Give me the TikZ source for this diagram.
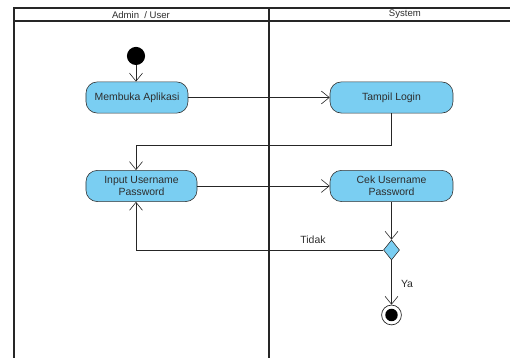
\documentclass[tikz,border=0pt]{standalone}
\usepackage{fontspec}
\setmainfont{Liberation Sans}
\usetikzlibrary{arrows.meta,shapes.geometric}
\definecolor{actfill}{RGB}{122,206,242}
\definecolor{txtgray}{RGB}{45,45,45}

\begin{document}
\begin{tikzpicture}[
  act/.style={draw=black!80, fill=actfill, rounded corners=0.4cm, minimum height=1.1cm,
    text=txtgray, font=\fontsize{10.5}{12}\selectfont, align=center, line width=0.6pt},
  flow/.style={draw=black!85, line width=0.6pt, -{Straight Barb[length=8pt,width=13pt]}},
  lane/.style={line width=1.6pt, draw=black!85},
  header/.style={text=txtgray, font=\fontsize{9.6}{11}\selectfont},
  lbl/.style={text=txtgray, font=\fontsize{10.5}{12}\selectfont}
]

\useasboundingbox (0,0) rectangle (18,12.635);
\clip (0,0) rectangle (18,12.635);

% swimlanes
\draw[lane] (0.494,-0.5) -- (0.494,12.353) -- (18.5,12.353);
\draw[lane] (0.494,11.894) -- (18.5,11.894);
\draw[lane] (9.494,-0.5) -- (9.494,12.353);
\node[header] (h1) at (4.976,12.12) {Admin \ / User};
\node[header] (h2) at (14.29,12.12) {System};

% activities
\node[circle, fill=black, minimum size=0.64cm, inner sep=0] (v1) at (4.80,10.66) {};
\node[act, minimum width=3.6cm] (v2) at (4.835,9.194) {Membuka Aplikasi};
\node[act, minimum width=4.34cm] (v3) at (13.818,9.194) {Tampil Login};
\node[act, minimum width=3.92cm] (v4) at (4.994,6.071) {Input Username\\Password};
\node[act, minimum width=4.34cm] (v5) at (13.818,6.071) {Cek Username\\Password};
\node[diamond, draw=black!80, fill=actfill, line width=0.6pt, minimum width=0.565cm,
  minimum height=0.706cm, inner sep=0] (v6) at (13.818,3.812) {};
\node[circle, draw=black!85, line width=0.7pt, minimum size=0.7cm, inner sep=0] (v7) at (13.818,1.518) {};
\node[circle, fill=black, minimum size=0.44cm, inner sep=0] (v8) at (v7) {};

\coordinate (c1) at (4.80,7.518);

% flows
\draw[flow] (v1) -- (v1 |- v2.north);
\draw[flow] (v2) -- (v3);
\draw[flow] (v3.south) |- (c1) -- (c1 |- v4.north);
\draw[flow] (v4) -- (v5);
\draw[flow] (v5) -- (v6);
\draw[flow] (v6) -- (v7);
\draw[flow] (v6.west) -| (c1 |- v4.south);

\node[lbl] (t1) at (11.047,4.165) {Tidak};
\node[lbl] (t2) at (14.365,2.612) {Ya};

\end{tikzpicture}
\end{document}
